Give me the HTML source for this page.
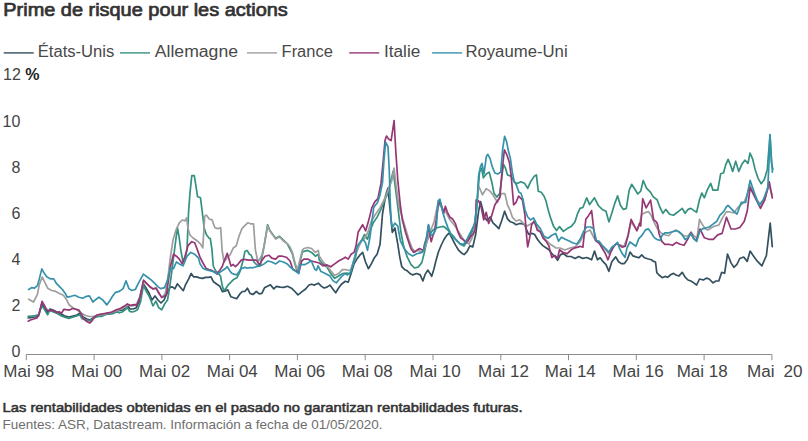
<!DOCTYPE html><html><head><meta charset="utf-8"><title>Prime de risque pour les actions</title><style>html,body{margin:0;padding:0;background:#fff;width:808px;height:441px;overflow:hidden;font-family:"Liberation Sans",sans-serif}svg{display:block}</style></head><body><svg width="808" height="441" viewBox="0 0 808 441" font-family="Liberation Sans, sans-serif"><rect width="808" height="441" fill="#fff"/><text x="3.3" y="16" font-size="17.5" fill="#333" stroke="#333" stroke-width="0.7" textLength="284.5" lengthAdjust="spacingAndGlyphs">Prime de risque pour les actions</text><line x1="3.7" y1="52.9" x2="33.7" y2="52.9" stroke="#33505f" stroke-width="1.4"/><text x="37.8" y="56.9" font-size="16" fill="#484848" textLength="76.5" lengthAdjust="spacingAndGlyphs">États-Unis</text><line x1="120" y1="52.9" x2="150" y2="52.9" stroke="#34917f" stroke-width="1.4"/><text x="154.8" y="56.9" font-size="16" fill="#484848" textLength="83.2" lengthAdjust="spacingAndGlyphs">Allemagne</text><line x1="247" y1="52.9" x2="277" y2="52.9" stroke="#9e9e9e" stroke-width="1.4"/><text x="281.6" y="56.9" font-size="16" fill="#484848" textLength="51.2" lengthAdjust="spacingAndGlyphs">France</text><line x1="349.2" y1="52.9" x2="379.2" y2="52.9" stroke="#963775" stroke-width="1.4"/><text x="384" y="56.9" font-size="16" fill="#484848" textLength="36.3" lengthAdjust="spacingAndGlyphs">Italie</text><line x1="432.1" y1="52.9" x2="462.1" y2="52.9" stroke="#3592aa" stroke-width="1.4"/><text x="465.4" y="56.9" font-size="16" fill="#484848" textLength="102.2" lengthAdjust="spacingAndGlyphs">Royaume-Uni</text><text x="3" y="80" font-size="16" fill="#444">12 <tspan font-weight="bold" fill="#222">%</tspan></text><text x="20.3" y="126.7" font-size="16" fill="#444" text-anchor="end">10</text><text x="20.3" y="172.8" font-size="16" fill="#444" text-anchor="end">8</text><text x="20.3" y="219" font-size="16" fill="#444" text-anchor="end">6</text><text x="20.3" y="265" font-size="16" fill="#444" text-anchor="end">4</text><text x="20.3" y="311.2" font-size="16" fill="#444" text-anchor="end">2</text><text x="20.3" y="357.2" font-size="16" fill="#444" text-anchor="end">0</text><line x1="26.3" y1="354.5" x2="771.88" y2="354.5" stroke="#8c8c8c" stroke-width="1.1"/><line x1="26.3" y1="354.5" x2="26.3" y2="360.2" stroke="#8c8c8c" stroke-width="1"/><line x1="94.1" y1="354.5" x2="94.1" y2="360.2" stroke="#8c8c8c" stroke-width="1"/><line x1="161.9" y1="354.5" x2="161.9" y2="360.2" stroke="#8c8c8c" stroke-width="1"/><line x1="229.6" y1="354.5" x2="229.6" y2="360.2" stroke="#8c8c8c" stroke-width="1"/><line x1="297.4" y1="354.5" x2="297.4" y2="360.2" stroke="#8c8c8c" stroke-width="1"/><line x1="365.2" y1="354.5" x2="365.2" y2="360.2" stroke="#8c8c8c" stroke-width="1"/><line x1="433.0" y1="354.5" x2="433.0" y2="360.2" stroke="#8c8c8c" stroke-width="1"/><line x1="500.8" y1="354.5" x2="500.8" y2="360.2" stroke="#8c8c8c" stroke-width="1"/><line x1="568.5" y1="354.5" x2="568.5" y2="360.2" stroke="#8c8c8c" stroke-width="1"/><line x1="636.3" y1="354.5" x2="636.3" y2="360.2" stroke="#8c8c8c" stroke-width="1"/><line x1="704.1" y1="354.5" x2="704.1" y2="360.2" stroke="#8c8c8c" stroke-width="1"/><line x1="771.9" y1="354.5" x2="771.9" y2="360.2" stroke="#8c8c8c" stroke-width="1"/><text x="3.3" y="376.5" font-size="16" fill="#444" textLength="51" lengthAdjust="spacingAndGlyphs">Mai 98</text><text x="71.3" y="376.5" font-size="16" fill="#444" textLength="51" lengthAdjust="spacingAndGlyphs">Mai 00</text><text x="139.1" y="376.5" font-size="16" fill="#444" textLength="51" lengthAdjust="spacingAndGlyphs">Mai 02</text><text x="206.8" y="376.5" font-size="16" fill="#444" textLength="51" lengthAdjust="spacingAndGlyphs">Mai 04</text><text x="274.3" y="376.5" font-size="16" fill="#444" textLength="51" lengthAdjust="spacingAndGlyphs">Mai 06</text><text x="341.7" y="376.5" font-size="16" fill="#444" textLength="51" lengthAdjust="spacingAndGlyphs">Mai 08</text><text x="409.6" y="376.5" font-size="16" fill="#444" textLength="51" lengthAdjust="spacingAndGlyphs">Mai 10</text><text x="478.0" y="376.5" font-size="16" fill="#444" textLength="51" lengthAdjust="spacingAndGlyphs">Mai 12</text><text x="544.8" y="376.5" font-size="16" fill="#444" textLength="51" lengthAdjust="spacingAndGlyphs">Mai 14</text><text x="612.6" y="376.5" font-size="16" fill="#444" textLength="51" lengthAdjust="spacingAndGlyphs">Mai 16</text><text x="676.7" y="376.5" font-size="16" fill="#444" textLength="51" lengthAdjust="spacingAndGlyphs">Mai 18</text><text x="747" y="376.5" font-size="16" fill="#444" textLength="27.5" lengthAdjust="spacingAndGlyphs">Mai</text><text x="783.6" y="376.5" font-size="16" fill="#444" textLength="19" lengthAdjust="spacingAndGlyphs">20</text><polyline points="28.2,318.0 31.3,317.5 35.3,317.0 38.5,316.0 41.7,304.0 44.0,307.0 47.6,313.0 50.0,309.0 53.0,310.0 57.0,312.0 61.0,314.0 65.0,316.0 69.0,317.0 73.0,316.0 77.0,315.0 80.0,313.0 83.0,317.0 87.0,319.0 90.0,320.0 93.0,318.0 96.0,316.0 99.0,315.0 102.0,315.0 105.0,314.0 108.0,313.0 111.0,313.0 114.0,312.0 117.0,311.0 120.0,310.5 123.0,310.0 126.0,307.0 128.0,306.0 130.0,309.0 133.0,309.0 136.0,308.0 139.0,302.0 141.0,292.0 143.5,284.0 146.0,288.0 149.0,293.0 152.0,300.0 155.0,296.0 158.0,300.0 161.0,303.0 164.0,300.0 167.2,293.0 169.9,287.3 172.4,286.8 174.9,288.8 177.3,283.8 180.3,287.3 183.3,290.7 185.7,284.3 188.7,278.9 191.2,273.4 193.7,276.9 196.6,276.9 199.6,277.9 202.6,278.4 205.5,277.4 208.5,277.4 211.0,276.9 213.5,281.8 216.9,284.3 219.9,286.3 222.4,291.7 224.9,291.2 227.8,289.8 230.8,296.7 233.8,297.7 236.7,298.7 240.0,293.8 242.2,291.5 244.8,291.5 247.4,288.2 250.0,293.4 253.0,294.5 256.3,291.5 259.3,293.8 261.9,293.4 264.5,287.8 267.5,286.3 270.4,284.8 273.8,288.9 276.4,286.3 280.1,287.1 283.8,287.4 287.5,286.3 292.0,288.6 294.9,291.5 297.9,294.9 300.0,293.4 301.7,291.9 305.6,289.0 309.0,285.0 311.6,284.2 314.5,285.1 318.3,283.2 321.2,286.1 324.1,288.0 327.0,287.1 329.9,285.1 332.8,289.0 335.7,292.8 338.6,288.0 341.4,284.2 345.3,281.3 348.2,282.2 351.1,273.6 354.0,263.9 356.9,259.1 359.8,255.2 362.7,252.4 365.5,262.0 368.4,268.7 371.3,263.9 374.2,258.1 377.1,254.3 380.0,244.6 382.5,214.0 385.6,195.6 388.0,188.0 390.2,210.9 392.3,232.3 394.9,228.0 397.7,243.6 399.8,257.2 401.8,266.7 404.5,269.5 407.2,270.8 410.0,273.5 412.7,274.9 416.8,273.5 420.2,274.9 422.9,281.0 424.9,274.9 427.7,270.1 429.7,272.9 431.7,276.3 433.8,269.5 435.8,261.3 438.5,251.8 441.3,245.0 444.0,239.5 446.7,235.4 449.4,233.0 452.5,239.2 455.4,244.9 458.3,249.8 461.2,252.7 464.1,254.6 467.0,251.7 469.9,245.9 472.8,246.9 475.7,234.3 478.6,211.2 480.5,201.6 482.4,208.3 484.3,217.0 487.2,220.8 490.1,217.0 493.0,222.8 495.9,225.7 498.8,228.6 501.7,220.8 504.6,211.2 507.5,218.9 510.4,221.8 513.3,222.8 516.2,224.7 519.0,223.7 521.9,223.7 524.8,224.7 526.8,230.5 528.7,234.3 531.6,233.4 534.5,234.3 537.4,239.2 540.3,243.0 543.1,245.9 546.0,247.8 548.9,249.8 551.8,253.6 555.7,257.5 557.6,260.4 560.5,254.6 563.4,253.6 567.2,256.5 571.1,256.5 575.0,258.4 578.8,256.5 582.7,258.4 586.5,257.5 589.0,258.4 591.6,259.8 594.5,251.1 597.4,259.8 600.2,257.8 603.1,261.7 606.0,264.6 608.9,271.3 611.8,261.7 615.7,256.9 618.6,261.7 621.4,263.6 624.3,263.6 627.2,259.8 630.1,252.1 633.0,255.9 635.9,256.9 638.8,257.8 641.7,254.9 644.6,257.8 647.5,258.8 651.3,259.8 654.2,261.7 655.5,262.0 656.8,272.7 659.0,275.0 662.3,277.7 665.0,276.4 667.7,277.3 670.9,274.5 673.6,273.4 676.4,275.2 679.1,275.9 682.2,272.3 685.1,277.1 688.0,280.0 690.9,281.0 693.7,282.9 696.6,285.0 699.5,279.0 703.4,280.0 706.3,278.1 709.2,279.0 713.0,282.9 715.9,281.0 718.8,281.0 721.7,272.3 724.6,273.3 727.5,254.0 731.0,262.9 733.9,267.3 736.9,264.4 739.8,258.5 743.7,257.0 747.2,261.4 750.1,251.1 753.1,255.5 757.5,261.4 761.9,265.9 766.4,255.5 770.2,223.1 772.3,246.7" fill="none" stroke="#33505f" stroke-width="1.7" stroke-linejoin="round" stroke-linecap="round"/><polyline points="28.2,316.4 31.3,316.0 35.3,315.6 38.5,314.8 41.7,306.1 44.0,308.5 47.6,314.8 49.6,310.5 52.8,311.7 56.7,313.3 60.7,315.6 64.7,317.2 68.7,318.4 72.6,317.2 76.6,316.0 79.8,314.8 82.1,318.8 86.0,320.0 89.7,321.0 92.7,318.7 95.6,317.2 98.6,316.5 101.5,316.5 104.5,315.0 107.4,314.2 110.4,314.2 113.3,313.5 116.3,312.0 119.2,312.8 122.2,312.0 125.1,309.8 127.4,307.6 129.6,311.3 132.5,312.0 134.7,311.3 137.6,309.8 140.5,302.0 143.4,285.7 146.3,291.4 149.2,296.3 153.0,305.9 155.9,301.1 158.8,307.8 161.7,309.8 164.6,304.0 167.5,300.1 170.0,285.0 172.0,270.0 174.5,250.0 177.4,227.7 179.3,238.3 180.8,250.0 183.0,262.0 185.0,258.0 187.0,250.0 188.5,213.2 189.9,193.9 191.8,175.6 194.3,175.6 195.7,184.3 197.6,196.8 200.5,197.8 202.4,213.2 204.3,228.6 206.3,234.4 209.2,238.3 210.3,238.5 211.8,248.3 213.3,266.0 215.5,270.5 218.0,273.0 220.6,276.3 222.1,285.1 223.6,290.3 225.8,288.8 228.0,285.1 231.0,282.2 233.9,279.2 236.9,277.8 239.8,271.9 242.8,261.5 245.0,251.2 247.2,250.5 249.4,254.2 251.0,255.0 254.0,262.0 257.0,265.0 260.3,265.8 264.1,246.0 267.6,224.8 269.9,230.5 272.8,234.4 275.7,238.3 279.5,236.3 283.4,240.2 287.4,244.0 290.0,249.0 292.4,254.0 294.9,264.0 297.4,272.0 299.9,262.0 302.4,252.0 303.9,251.4 307.7,250.4 311.6,252.4 315.4,256.2 318.3,254.3 319.3,260.1 323.1,264.0 327.0,267.0 330.8,273.6 334.7,278.4 338.6,276.0 342.4,273.6 346.3,273.0 350.1,273.6 353.0,263.0 356.0,252.0 357.8,246.0 361.7,240.2 364.6,234.4 367.5,239.2 370.4,229.6 373.3,222.8 377.1,217.1 381.0,209.3 384.8,199.7 387.7,193.9 390.2,183.4 393.2,171.2 394.8,183.4 397.2,201.7 400.9,232.0 403.6,246.3 407.3,257.2 410.9,264.4 414.5,268.0 418.1,267.1 421.8,262.6 424.5,252.0 427.0,240.0 430.0,234.0 433.0,230.0 436.3,228.0 440.0,227.0 443.6,226.3 448.0,230.0 452.0,236.0 456.0,240.0 460.0,244.0 464.0,246.0 468.0,240.0 472.0,232.0 475.0,222.0 477.6,197.1 479.5,172.1 481.5,168.2 483.4,177.8 486.3,174.0 489.2,172.1 491.7,181.7 494.0,193.3 496.9,197.1 499.8,193.3 502.7,170.1 503.6,164.3 505.5,168.2 507.5,174.9 510.4,175.9 512.3,177.8 514.2,181.7 517.1,183.6 521.0,181.7 524.8,183.6 527.7,188.4 530.6,181.7 534.5,175.9 536.4,174.9 538.3,191.3 541.2,192.3 544.1,196.2 546.0,201.0 548.0,209.3 550.9,218.9 553.7,226.6 556.6,230.5 559.5,226.6 563.4,231.4 567.2,228.6 571.1,226.6 575.0,221.8 577.8,213.1 580.0,208.4 582.9,207.5 586.7,197.8 589.6,204.6 594.5,197.8 598.3,205.5 602.2,209.4 606.0,211.3 608.9,221.9 611.8,213.3 614.7,203.6 617.6,195.9 620.5,205.5 623.4,209.4 626.3,208.4 629.2,190.1 631.7,184.3 634.9,189.2 637.8,194.0 640.7,191.1 643.2,180.5 646.5,188.2 650.4,192.1 653.3,196.9 657.1,199.8 660.0,207.5 662.9,213.3 665.8,209.4 669.6,214.2 673.5,215.2 677.4,212.3 682.2,208.4 685.1,213.3 688.0,209.4 690.9,208.4 693.7,210.4 696.6,212.3 699.5,199.8 701.8,193.0 704.4,197.8 707.2,190.1 710.7,183.4 713.0,190.1 717.8,190.1 720.7,173.7 723.6,172.8 725.6,165.1 728.1,159.3 730.6,165.3 732.7,171.4 735.7,161.2 738.8,171.4 741.8,164.3 744.9,160.2 748.0,163.3 750.0,153.1 752.7,159.2 755.1,169.4 758.2,178.6 761.2,183.7 764.3,179.6 767.3,169.4 770.0,134.7 771.5,163.2 772.9,169.1" fill="none" stroke="#34917f" stroke-width="1.7" stroke-linejoin="round" stroke-linecap="round"/><polyline points="28.7,299.2 33.5,302.0 37.4,294.3 39.3,284.7 42.2,277.0 45.1,282.8 48.0,288.6 51.8,290.5 55.7,291.4 59.5,293.4 63.4,295.3 66.3,299.2 69.2,305.0 73.0,307.8 76.9,309.8 80.7,312.7 85.5,315.5 89.4,316.5 93.3,316.5 97.1,315.5 101.0,315.0 105.0,314.0 110.0,313.0 116.0,311.0 121.0,309.0 125.0,307.0 128.0,305.0 132.0,306.0 136.0,305.0 140.0,297.0 143.5,281.0 147.0,284.0 150.0,287.0 153.0,289.0 156.0,288.0 159.0,294.0 162.0,297.0 165.0,294.0 167.0,285.0 170.0,260.0 173.0,240.0 176.0,230.0 179.3,222.8 182.2,220.0 185.0,220.9 186.6,218.0 188.0,228.6 190.0,235.0 193.0,238.0 196.0,240.0 198.6,242.1 200.5,244.0 202.8,247.9 204.7,216.1 206.3,215.1 209.2,219.0 212.1,219.9 214.9,227.7 217.8,228.6 220.7,227.7 222.1,250.0 224.0,262.0 227.0,258.0 230.0,255.0 233.3,247.9 236.2,246.0 239.0,236.3 241.9,228.6 244.8,225.7 247.7,222.8 250.6,223.8 253.5,223.8 255.4,250.0 258.0,262.0 262.0,255.0 264.1,246.0 267.6,226.0 269.9,231.0 272.8,235.0 275.7,239.0 279.5,237.0 283.4,241.0 287.4,243.7 290.0,247.0 292.4,252.4 294.9,262.4 297.4,269.9 299.9,259.9 302.4,249.9 303.9,248.5 307.7,247.5 311.6,248.5 315.4,252.4 318.3,250.4 319.3,256.2 323.1,262.0 327.0,265.8 330.8,270.7 334.7,275.5 338.6,273.6 342.4,269.7 346.3,269.7 350.1,270.7 353.0,263.9 355.9,254.3 358.8,246.6 361.7,240.8 365.0,238.0 368.0,232.0 371.0,222.0 375.0,215.0 380.0,208.0 385.0,198.0 389.0,188.0 392.0,180.0 394.1,168.1 396.0,185.0 398.0,200.0 400.0,210.0 403.0,220.0 406.0,230.0 409.0,240.0 412.0,248.0 415.0,252.0 418.0,250.0 421.0,252.0 424.0,250.0 427.0,242.0 430.0,232.0 434.0,222.0 438.0,203.0 442.0,208.0 446.0,212.0 450.0,220.0 455.0,226.0 460.0,234.0 465.0,242.0 469.0,244.0 472.0,238.0 475.0,228.0 476.0,212.0 478.7,186.0 482.5,194.8 486.2,188.6 490.0,191.1 493.7,196.0 497.4,202.3 501.2,193.6 504.9,193.6 507.5,205.0 509.9,209.8 512.4,217.3 516.1,221.0 519.9,219.8 523.6,223.5 527.0,226.0 530.5,224.0 534.0,222.0 537.0,228.0 540.0,232.0 543.0,236.0 546.0,240.0 550.0,244.0 555.7,247.8 560.0,248.0 565.0,250.0 570.0,248.0 575.0,246.9 580.0,242.0 582.7,236.3 586.0,232.0 590.0,230.0 594.0,238.0 598.0,242.0 602.0,246.0 606.0,250.0 609.0,254.0 612.0,249.0 616.0,244.0 620.0,245.0 624.0,246.0 628.0,236.0 631.0,222.0 634.0,226.0 637.0,230.0 640.0,222.0 641.7,214.5 645.5,212.5 648.4,211.6 651.0,215.0 654.0,222.0 657.0,228.0 661.0,233.0 664.8,234.7 668.7,235.7 672.0,232.0 676.0,230.0 680.0,233.0 684.0,236.0 688.0,236.0 691.0,232.0 694.0,236.0 697.0,238.0 699.5,219.3 702.0,224.0 705.3,228.9 708.0,230.0 711.8,227.5 715.0,226.0 718.8,225.1 722.7,217.4 726.5,211.6 730.0,212.0 733.9,212.8 738.3,206.9 744.2,202.4 747.0,195.0 750.0,185.0 753.0,192.0 757.0,200.0 761.0,205.0 765.0,198.0 769.0,185.0 772.0,195.0" fill="none" stroke="#9e9e9e" stroke-width="1.7" stroke-linejoin="round" stroke-linecap="round"/><polyline points="28.2,321.2 31.3,319.6 34.5,318.8 36.9,318.0 39.3,313.3 42.1,301.3 44.4,305.3 46.4,309.3 48.8,310.9 51.2,310.1 53.6,310.9 56.7,312.5 59.1,311.7 61.5,313.3 63.9,309.3 66.3,309.7 69.4,310.1 72.6,308.5 75.8,309.3 79.0,310.1 81.3,314.0 83.7,318.8 86.8,321.6 89.7,323.1 92.0,320.9 94.2,317.2 97.1,315.0 100.8,314.2 104.5,313.5 108.2,312.8 111.9,312.0 116.3,309.8 120.7,308.3 124.4,306.1 127.4,303.9 130.3,305.4 134.0,304.7 137.1,304.8 140.3,296.0 143.5,280.2 146.7,283.3 149.8,286.5 153.0,288.9 156.2,288.1 159.4,293.7 161.7,297.6 164.1,296.5 166.5,294.0 168.5,280.0 170.6,265.8 173.5,254.3 176.4,256.2 179.3,259.1 182.2,263.9 185.1,256.2 188.0,245.6 191.8,241.7 194.7,242.7 197.6,250.4 200.0,257.1 203.0,263.0 205.9,268.2 208.8,269.5 211.8,270.4 214.7,271.9 217.0,274.1 219.2,271.1 222.1,266.7 225.1,258.6 227.3,253.4 228.8,258.6 231.0,266.0 233.2,264.5 235.4,266.7 238.3,263.8 241.3,260.1 244.2,259.3 248.7,260.1 252.5,260.1 256.4,260.1 259.3,264.9 262.2,260.1 265.1,256.2 268.9,255.2 271.8,258.1 275.7,259.1 278.6,256.2 282.4,256.2 286.3,257.2 290.1,261.0 293.0,269.7 295.9,270.7 298.8,272.6 301.7,261.0 303.9,259.1 307.7,259.1 311.6,261.0 315.4,262.0 319.3,263.0 323.1,265.8 327.0,264.9 330.8,266.8 334.7,263.9 338.6,261.0 342.4,259.1 345.3,257.2 348.2,259.1 351.1,254.3 354.0,252.4 355.9,246.6 358.1,232.3 362.6,224.7 365.7,230.8 368.8,220.1 371.8,207.9 374.9,201.7 377.9,198.7 381.0,183.4 383.1,162.0 385.0,140.6 386.5,136.0 388.6,139.0 391.1,140.6 394.1,120.7 395.7,149.8 397.8,180.3 400.3,204.8 402.4,220.1 405.5,232.3 408.5,241.5 410.9,248.5 413.7,252.4 416.6,250.4 419.5,248.5 423.4,250.4 424.5,244.4 427.2,235.4 428.5,225.4 429.9,235.4 431.2,241.7 432.7,236.3 434.5,231.7 436.3,219.0 438.1,206.3 439.9,200.9 441.7,206.3 443.6,213.6 445.4,206.3 447.2,211.8 449.9,217.2 452.6,219.0 455.4,223.6 458.1,232.6 460.8,238.1 463.5,239.9 466.2,242.6 468.1,240.8 470.8,236.3 473.5,233.6 475.3,229.0 476.2,199.8 478.7,201.1 481.2,207.3 483.7,219.8 486.2,212.3 488.7,223.5 491.2,217.3 494.9,204.8 497.4,201.1 499.9,197.3 502.4,167.4 504.4,149.9 506.9,154.9 509.4,162.4 511.1,174.9 513.6,204.8 516.1,202.3 518.6,196.1 522.4,199.8 524.9,214.8 526.8,238.2 527.7,246.9 529.6,238.2 531.6,224.7 534.5,220.8 537.4,230.5 540.3,231.4 543.1,238.2 546.0,241.1 548.9,245.9 551.8,257.5 554.7,255.5 557.6,258.0 559.5,249.8 563.4,252.7 567.2,253.6 571.1,249.8 575.0,247.8 578.8,246.9 580.0,246.3 582.9,247.2 585.8,219.3 588.7,215.4 591.6,210.6 593.5,227.0 595.4,240.5 599.3,243.4 602.2,248.2 605.1,253.0 608.0,259.8 610.8,252.1 613.7,246.3 616.6,243.4 619.5,245.3 622.4,247.2 625.3,246.3 628.2,234.7 631.1,219.3 634.0,225.1 636.9,230.8 639.8,223.1 640.7,226.0 642.7,198.7 646.2,207.9 650.6,200.1 653.6,219.8 656.4,221.9 657.7,224.6 659.0,233.7 661.9,241.4 664.8,244.3 668.7,244.3 672.5,245.3 676.4,242.4 680.3,244.3 684.1,245.3 688.0,238.6 690.9,232.8 693.7,238.6 696.6,240.5 700.0,229.0 704.4,237.8 708.8,239.3 713.3,239.3 717.7,234.9 722.1,233.4 726.5,217.2 731.0,229.0 735.4,229.0 739.8,227.5 744.2,221.6 747.2,211.3 750.1,187.7 753.1,193.6 757.5,202.4 760.5,208.3 764.9,199.5 769.3,181.8 772.3,198.0" fill="none" stroke="#963775" stroke-width="1.7" stroke-linejoin="round" stroke-linecap="round"/><polyline points="28.7,289.5 31.6,287.6 34.5,288.2 37.4,285.7 39.3,278.9 41.8,268.9 44.1,273.1 47.0,277.0 50.8,278.9 53.7,278.9 56.6,283.7 59.5,286.6 62.4,289.5 65.3,293.4 67.2,297.2 71.1,296.3 74.9,295.3 78.8,297.2 82.7,298.2 86.5,296.3 89.4,295.9 92.9,302.0 96.2,299.2 99.0,297.2 102.9,300.1 106.8,304.9 109.6,301.1 112.5,296.3 115.4,292.4 119.3,291.4 123.1,288.6 126.0,280.8 128.9,288.6 131.8,290.5 135.3,289.5 138.6,282.8 143.4,274.1 147.2,277.0 151.1,279.9 155.0,283.7 157.8,286.6 160.7,288.6 164.6,287.6 167.5,280.0 170.6,267.8 173.5,268.7 176.4,262.0 179.3,263.9 183.1,265.8 187.0,256.2 190.8,252.4 194.7,254.3 198.6,258.1 200.0,263.8 203.0,268.2 205.9,269.7 208.8,270.4 211.8,271.1 214.7,272.6 217.7,274.1 220.6,271.9 223.6,269.7 225.8,268.2 227.3,266.7 229.5,270.4 231.7,273.3 233.9,274.1 236.9,274.8 239.8,270.4 242.0,268.2 245.0,267.4 247.9,268.2 250.0,267.5 252.5,267.8 256.4,266.8 260.3,265.8 264.1,263.9 268.0,261.0 271.8,262.0 275.7,263.9 279.5,261.0 283.4,262.0 287.2,263.9 291.1,267.8 295.0,270.7 298.8,273.6 300.0,264.7 304.5,264.7 307.9,263.0 311.3,260.8 314.7,269.3 316.4,270.4 318.1,265.9 321.0,271.5 323.8,272.7 327.2,274.4 330.0,276.1 332.9,280.6 336.3,282.9 339.1,279.5 342.0,276.1 344.8,273.8 347.6,274.9 350.5,272.7 352.2,267.0 353.9,261.3 355.6,256.8 356.9,246.6 359.8,242.7 362.7,238.9 365.5,242.7 367.5,250.4 370.0,237.0 373.7,207.4 377.5,202.4 380.0,194.9 382.5,182.4 384.0,160.0 385.6,142.1 388.0,146.7 389.3,171.2 390.2,201.7 391.1,220.1 392.3,227.7 394.8,223.2 397.8,226.2 400.4,240.9 404.5,249.0 408.6,253.8 412.7,255.9 416.8,253.8 419.5,253.1 422.2,252.4 423.6,249.9 426.3,239.0 428.5,224.5 430.9,235.4 433.6,233.6 436.3,228.1 438.1,200.9 439.9,199.1 442.6,211.8 445.4,220.9 448.1,228.1 450.8,233.6 453.5,236.3 456.3,239.9 459.9,243.5 463.5,244.4 467.2,239.0 470.8,231.7 474.4,224.5 476.6,209.3 478.6,175.9 480.5,166.3 482.0,163.4 484.0,174.0 486.3,156.6 487.8,154.3 490.1,158.6 492.1,166.3 494.9,173.0 497.8,174.0 500.7,172.1 502.7,148.9 504.6,136.4 506.5,141.2 508.4,150.8 510.4,158.6 512.3,172.1 514.2,181.7 516.2,184.6 519.0,192.3 521.0,193.3 522.9,199.0 525.0,210.0 527.7,217.0 530.6,219.9 533.5,218.0 536.4,223.7 540.3,228.6 544.1,236.3 548.0,238.2 551.8,235.3 555.7,233.4 558.6,241.1 561.5,237.2 565.3,239.2 569.2,241.1 573.0,243.0 576.9,244.0 580.7,238.2 583.6,231.4 586.7,227.0 590.6,227.0 593.5,228.9 596.4,240.5 599.3,241.4 602.2,245.3 606.0,249.2 608.9,252.1 611.8,247.2 614.7,245.3 617.6,242.4 619.3,247.8 622.2,253.6 625.1,257.4 627.0,247.8 629.9,242.0 632.8,244.0 635.9,246.3 638.8,238.6 641.7,235.7 645.5,229.9 648.4,228.9 651.3,232.8 654.2,237.6 657.1,239.5 660.0,240.5 661.9,235.7 664.8,232.8 668.7,232.8 672.5,231.8 676.4,230.8 679.3,231.8 682.2,234.7 685.1,239.5 688.0,237.6 690.9,233.7 693.7,238.6 696.6,241.4 699.5,231.8 702.4,228.9 705.3,228.0 709.2,227.0 713.0,224.1 716.9,221.2 719.8,215.4 723.6,211.6 726.5,206.7 728.0,205.4 732.4,209.8 736.9,214.2 741.3,202.4 745.7,202.4 750.1,180.3 754.6,193.6 759.0,205.4 763.4,199.5 767.8,187.7 769.1,160.0 770.0,135.0 771.0,151.5 772.4,172.1" fill="none" stroke="#3592aa" stroke-width="1.7" stroke-linejoin="round" stroke-linecap="round"/><text x="2.5" y="411.5" font-size="13.5" fill="#333" stroke="#333" stroke-width="0.55" textLength="520" lengthAdjust="spacingAndGlyphs">Las rentabilidades obtenidas en el pasado no garantizan rentabilidades futuras.</text><text x="2.5" y="428.8" font-size="13.5" fill="#6e6e6e" textLength="380" lengthAdjust="spacingAndGlyphs">Fuentes: ASR, Datastream. Información a fecha de 01/05/2020.</text></svg></body></html>
